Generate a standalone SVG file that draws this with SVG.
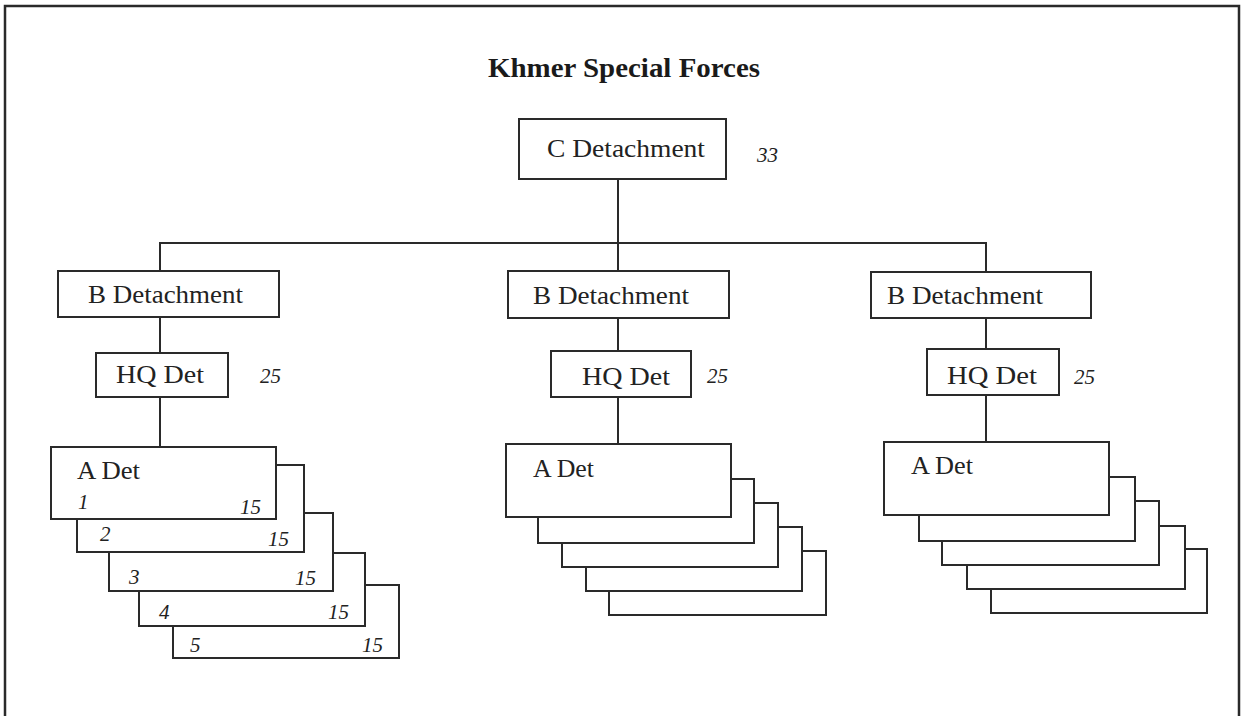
<svg xmlns="http://www.w3.org/2000/svg" width="1247" height="716" viewBox="0 0 1247 716">
<style>
.box{fill:#fff;stroke:#2a2a2a;stroke-width:2}
.ln{fill:none;stroke:#2a2a2a;stroke-width:2}
.lbl{font-family:"Liberation Serif",serif;font-size:26px;fill:#222}
.num{font-family:"Liberation Serif",serif;font-style:italic;font-size:21px;fill:#222}
.title{font-family:"Liberation Serif",serif;font-weight:bold;font-size:28px;fill:#1a1a1a}
</style>
<rect width="1247" height="716" fill="#fff"/>
<path d="M5,720 V6 H1239 V720" fill="none" stroke="#2a2a2a" stroke-width="2.5"/>
<text class="title" x="488" y="77" textLength="272" lengthAdjust="spacingAndGlyphs">Khmer Special Forces</text>

<g id="connectors">
<path class="ln" d="M618,179 V272"/>
<path class="ln" d="M160,271 V243 H986 V272"/>
<path class="ln" d="M160,317 V353 M160,397 V447"/>
<path class="ln" d="M618,318 V351 M618,397 V444"/>
<path class="ln" d="M986,318 V349 M986,395 V442"/>
</g>

<g id="c-det">
<rect class="box" x="519" y="119" width="207" height="60"/>
<text class="lbl" x="547" y="157" textLength="158" lengthAdjust="spacingAndGlyphs">C Detachment</text>
<text class="num" x="757" y="162" font-size="24">33</text>
</g>

<g id="b-det-left">
<rect class="box" x="58" y="271" width="221" height="46"/>
<text class="lbl" x="88" y="303" textLength="155" lengthAdjust="spacingAndGlyphs">B Detachment</text>
</g>
<g id="b-det-mid">
<rect class="box" x="508" y="271" width="221" height="47"/>
<text class="lbl" x="533" y="304" textLength="156" lengthAdjust="spacingAndGlyphs">B Detachment</text>
</g>
<g id="b-det-right">
<rect class="box" x="871" y="272" width="220" height="46"/>
<text class="lbl" x="887" y="304" textLength="156" lengthAdjust="spacingAndGlyphs">B Detachment</text>
</g>

<g id="hq-left">
<rect class="box" x="96" y="353" width="132" height="44"/>
<text class="lbl" x="116" y="383" textLength="88" lengthAdjust="spacingAndGlyphs">HQ Det</text>
<text class="num" x="260" y="383">25</text>
</g>
<g id="hq-mid">
<rect class="box" x="551" y="351" width="140" height="46"/>
<text class="lbl" x="582" y="385" textLength="88" lengthAdjust="spacingAndGlyphs">HQ Det</text>
<text class="num" x="707" y="383">25</text>
</g>
<g id="hq-right">
<rect class="box" x="927" y="349" width="132" height="46"/>
<text class="lbl" x="947" y="384" textLength="90" lengthAdjust="spacingAndGlyphs">HQ Det</text>
<text class="num" x="1074" y="384">25</text>
</g>

<g id="a-det-left">
<rect class="box" x="173" y="585" width="226" height="73"/>
<text class="num" x="190" y="652">5</text>
<text class="num" x="362" y="652">15</text>
<rect class="box" x="139" y="553" width="226" height="73"/>
<text class="num" x="159" y="619">4</text>
<text class="num" x="328" y="619">15</text>
<rect class="box" x="109" y="513" width="224" height="78"/>
<text class="num" x="129" y="584">3</text>
<text class="num" x="295" y="585">15</text>
<rect class="box" x="77" y="465" width="227" height="87"/>
<text class="num" x="100" y="541">2</text>
<text class="num" x="268" y="546">15</text>
<rect class="box" x="51" y="447" width="225" height="72"/>
<text class="lbl" x="77" y="479" textLength="63" lengthAdjust="spacingAndGlyphs">A Det</text>
<text class="num" x="78" y="509">1</text>
<text class="num" x="240" y="514">15</text>
</g>

<g id="a-det-mid">
<rect class="box" x="609" y="551" width="217" height="64"/>
<rect class="box" x="586" y="527" width="216" height="64"/>
<rect class="box" x="562" y="503" width="216" height="64"/>
<rect class="box" x="538" y="479" width="216" height="64"/>
<rect class="box" x="506" y="444" width="225" height="73"/>
<text class="lbl" x="533" y="477" textLength="61" lengthAdjust="spacingAndGlyphs">A Det</text>
</g>

<g id="a-det-right">
<rect class="box" x="991" y="549" width="216" height="64"/>
<rect class="box" x="967" y="526" width="218" height="63"/>
<rect class="box" x="942" y="501" width="217" height="64"/>
<rect class="box" x="919" y="477" width="216" height="64"/>
<rect class="box" x="884" y="442" width="225" height="73"/>
<text class="lbl" x="911" y="474" textLength="62" lengthAdjust="spacingAndGlyphs">A Det</text>
</g>
</svg>
